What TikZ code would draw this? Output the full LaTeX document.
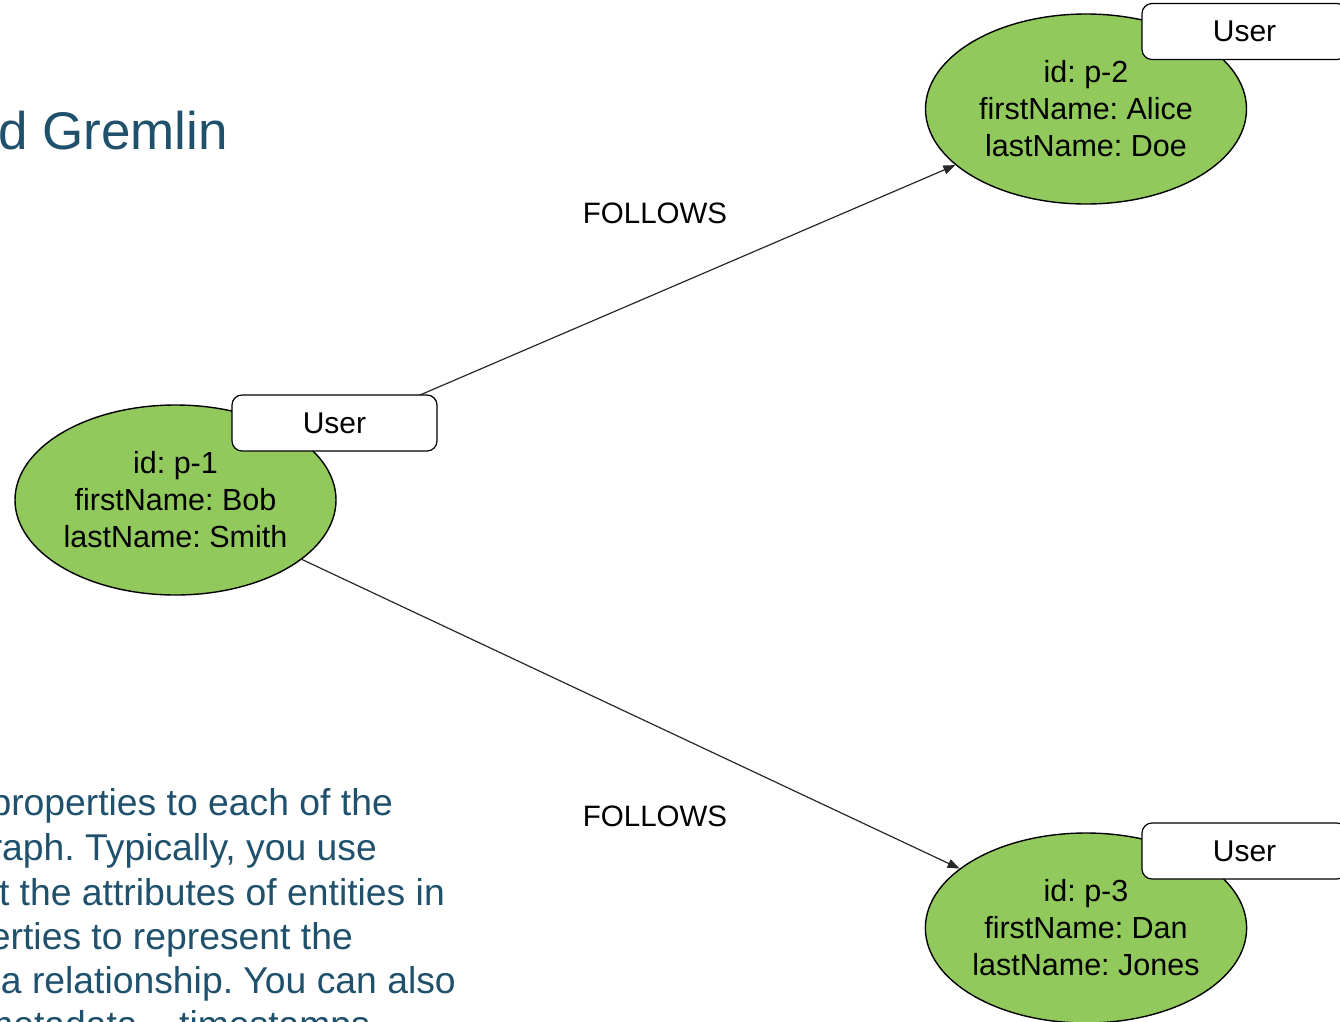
\documentclass[tikz,border=0pt]{standalone}
\usepackage{fontspec}
\setmainfont{Liberation Sans}
\usetikzlibrary{arrows.meta,shapes.geometric}
\frenchspacing

\definecolor{vertexgreen}{RGB}{146,201,92}
\definecolor{slideblue}{RGB}{31,80,108}
\definecolor{edgegray}{RGB}{40,40,40}

\tikzset{
  vertex/.style={ellipse, draw=black, line width=1.4pt, fill=vertexgreen,
    minimum width=321pt, minimum height=190pt, inner sep=0pt,
    align=center, font=\fontsize{30.5}{37}\selectfont},
  tagbox/.style={draw=black, line width=1.2pt, fill=white, rounded corners=10pt,
    minimum width=205pt, minimum height=56pt, inner sep=0pt,
    font=\fontsize{30}{36}\selectfont},
  follows/.style={draw=edgegray, line width=1.2pt,
    -{Triangle[length=12pt,width=9pt]}},
  edgetext/.style={font=\fontsize{29.5}{36}\selectfont},
  slidetitle/.style={text=slideblue, font=\fontsize{53}{64}\selectfont, inner sep=0pt},
  slidebody/.style={text=slideblue, font=\fontsize{37.3}{44}\selectfont, inner sep=0pt}
}

\begin{document}
\begin{tikzpicture}[x=1pt,y=-1pt]
  \useasboundingbox (0,0) rectangle (1340,1021);
  \clip (0,0) rectangle (1340,1021);

  % slide text
  \node[slidetitle, anchor=base east] (title) at (228,149) {d Gremlin};
  \node[slidebody, anchor=base east] (b1) at (393,815) {properties to each of the};
  \node[slidebody, anchor=base east] (b2) at (377,860) {raph. Typically, you use};
  \node[slidebody, anchor=base east] (b3) at (445,905) {t the attributes of entities in};
  \node[slidebody, anchor=base east] (b4) at (353,949) {erties to represent the};
  \node[slidebody, anchor=base east] (b5) at (456,993) {a relationship. You can also};
  \node[slidebody, anchor=base west] (b6) at (-18,1037) {metadata – timestamps};

  % vertices
  \node[vertex] (p1) at (175.5,500) {id: p-1\\firstName: Bob\\lastName: Smith};
  \node[vertex] (p2) at (1086,109) {id: p-2\\firstName: Alice\\lastName: Doe};
  \node[vertex] (p3) at (1086,928) {id: p-3\\firstName: Dan\\lastName: Jones};

  % edges
  \draw[follows] (p1) -- (p2);
  \draw[follows] (p1) -- (p3);
  \node[edgetext] (e1) at (655,213) {FOLLOWS};
  \node[edgetext] (e2) at (655,816) {FOLLOWS};

  % vertex labels
  \node[tagbox] (t1) at (334.5,423) {User};
  \node[tagbox] (t2) at (1244.5,31.5) {User};
  \node[tagbox] (t3) at (1244.5,851) {User};
\end{tikzpicture}
\end{document}
